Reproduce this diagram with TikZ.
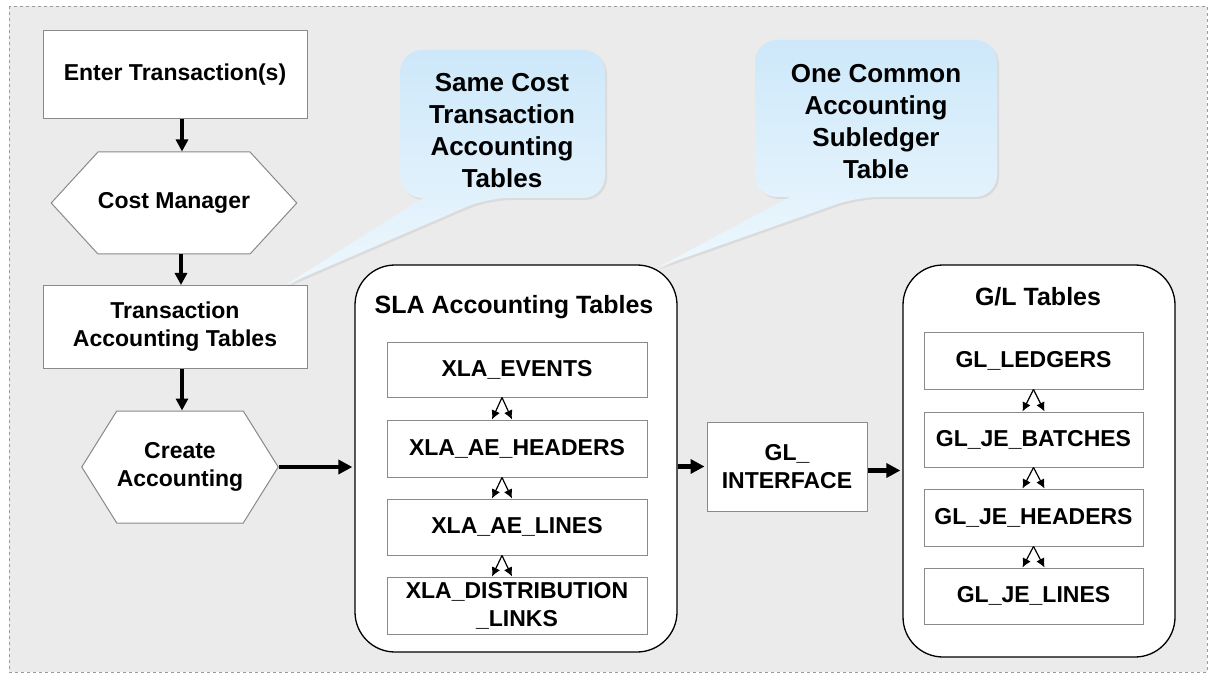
\documentclass[tikz,border=0pt]{standalone}
\usepackage{fontspec}
\setmainfont{Liberation Sans}
\usetikzlibrary{shapes.symbols,arrows.meta,shadows}
\definecolor{bgc}{HTML}{EBEBEB}
\definecolor{framec}{HTML}{9A9A9A}
\definecolor{boxline}{HTML}{8A8A8A}
\definecolor{calltop}{HTML}{CDE8FA}
\definecolor{callbot}{HTML}{EDF7FD}
\begin{document}
\begin{tikzpicture}[x=1pt,y=-1pt,
  base/.style={font=\bfseries\fontsize{23}{28}\selectfont, align=center, inner sep=0pt},
  plainbox/.style={base, draw=boxline, line width=1pt, fill=white},
  hexbox/.style={base, draw=boxline, line width=1pt, fill=white, shape=signal, signal to=west and east},
  group/.style={draw=black, line width=1.3pt, fill=white, rounded corners=40pt, inner sep=0pt},
  grouptitle/.style={font=\bfseries\fontsize{25}{30}\selectfont, inner sep=0pt},
  calltext/.style={font=\bfseries\fontsize{26}{32}\selectfont, align=center, inner sep=0pt},
  callout/.style={top color=calltop, bottom color=callbot, drop shadow={opacity=0.15, shadow xshift=2pt, shadow yshift=-2pt}},
  flow/.style={-{Triangle[length=14pt,width=14pt]}, line width=4.4pt, shorten >=2pt},
  vflow/.style={-{Triangle[length=12pt,width=12pt]}, line width=3.8pt},
  link/.style={-{Latex[length=9pt,width=9pt]}, line width=1.2pt}]

\useasboundingbox (0,0) rectangle (1210,676);
\draw[framec, dashed, fill=bgc, line width=0.8pt] (9,6) rectangle (1207,672);

% left column
\node[plainbox, minimum width=264pt, minimum height=88pt] (enter) at (175,75) {Enter Transaction(s)};
\node[hexbox, minimum width=242pt, minimum height=102pt, signal pointer angle=95] (cost) at (174,203) {Cost Manager};
\node[plainbox, minimum width=264pt, minimum height=83pt] (tat) at (175,327) {Transaction\\Accounting Tables};
\node[hexbox, minimum width=184pt, minimum height=112pt, signal pointer angle=116] (create) at (180,467) {Create\\Accounting};

% SLA group
\node[group, minimum width=322pt, minimum height=387pt] (sla) at (516,458.5) {};
\node[grouptitle] (slat) at (514,307) {SLA Accounting Tables};
\node[plainbox, minimum width=260pt, minimum height=55pt] (xe) at (517,369.5) {XLA\_EVENTS};
\node[plainbox, minimum width=260pt, minimum height=57pt] (xh) at (517,448.5) {XLA\_AE\_HEADERS};
\node[plainbox, minimum width=260pt, minimum height=56pt] (xl) at (517,527) {XLA\_AE\_LINES};
\node[plainbox, minimum width=260pt, minimum height=57pt] (xd) at (517,605.5) {XLA\_DISTRIBUTION\\\_LINKS};

% GL interface
\node[plainbox, minimum width=160pt, minimum height=89pt] (gli) at (787,466.5) {GL\_\\INTERFACE};

% GL group
\node[group, minimum width=272pt, minimum height=392pt] (gl) at (1039,461) {};
\node[grouptitle] (glt) at (1038,297) {G/L Tables};
\node[plainbox, minimum width=219pt, minimum height=57pt] (gll) at (1033.5,360.5) {GL\_LEDGERS};
\node[plainbox, minimum width=219pt, minimum height=55pt] (glb) at (1033.5,439.5) {GL\_JE\_BATCHES};
\node[plainbox, minimum width=219pt, minimum height=57pt] (glh) at (1033.5,517.5) {GL\_JE\_HEADERS};
\node[plainbox, minimum width=219pt, minimum height=56pt] (glj) at (1033.5,596) {GL\_JE\_LINES};

% main flow arrows
\draw[vflow] ([xshift=7pt]enter.south) -- ([xshift=7pt]enter.south |- cost.north);
\draw[vflow] ([xshift=7pt]cost.south) -- ([xshift=7pt]cost.south |- tat.north);
\draw[vflow] ([xshift=7pt]tat.south) -- ([xshift=7pt]tat.south |- create.north);
\draw[flow] (create.east) -- (create.east -| sla.west);
\draw[flow] (gli.west -| sla.east) -- (gli.west);
\draw[flow] ([yshift=-4pt]gli.east) -- ([yshift=-4pt]gli.east -| gl.west);

% double links SLA
\foreach \a/\b in {xe/xh, xh/xl, xl/xd}{
  \draw[link] ([xshift=-15pt]\a.south) -- ([xshift=-25pt]\b.north);
  \draw[link] ([xshift=-15pt]\a.south) -- ([xshift=-5pt]\b.north);
}
% double links GL
\foreach \a/\b in {gll/glb, glb/glh, glh/glj}{
  \draw[link] (\a.south) -- ([xshift=-11pt]\b.north);
  \draw[link] (\a.south) -- ([xshift=11pt]\b.north);
}

% callouts
\coordinate (tip1) at ([xshift=-22pt]tat.north east);
\coordinate (tip2) at ([xshift=-20pt,yshift=-3pt]sla.north east);
\path[callout] (400,124) [rounded corners=22pt] -- (400,50) -- (605,50) -- (605,198) -- (487,198) [sharp corners] -- (tip1) -- (423,198) [rounded corners=22pt] -- (400,198) -- cycle;
\node[calltext] (c1) at (502,131) {Same Cost\\Transaction\\Accounting\\Tables};
\path[callout] (755,118) [rounded corners=22pt] -- (755,40) -- (997,40) -- (997,197) -- (857,197) [sharp corners] -- (tip2) -- (790,197) [rounded corners=22pt] -- (755,197) -- cycle;
\node[calltext] (c2) at (876,121.5) {One Common\\Accounting\\Subledger\\Table};
\end{tikzpicture}
\end{document}
